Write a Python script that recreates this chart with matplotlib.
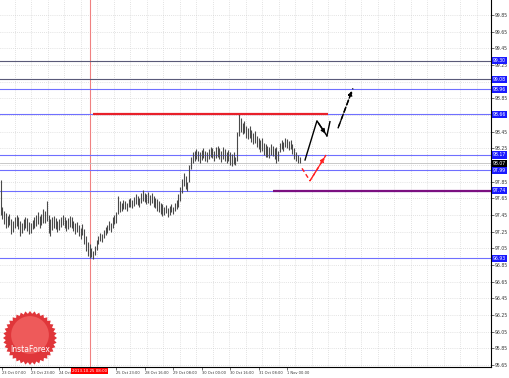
import numpy as np
import matplotlib
matplotlib.use("Agg")
import matplotlib.pyplot as plt
import matplotlib.transforms as mtransforms
from matplotlib.patches import Polygon, Circle

# hourly bars, quotes
bar_highs = [
    97.87, 97.55, 97.50, 97.47, 97.44, 97.46, 97.40, 97.38, 97.42, 97.45,
    97.42, 97.38, 97.36, 97.40, 97.43, 97.41, 97.37, 97.35, 97.39, 97.42,
    97.45, 97.48, 97.44, 97.46, 97.52, 97.50, 97.62, 97.45, 97.40, 97.43,
    97.44, 97.41, 97.38, 97.40, 97.43, 97.45, 97.42, 97.39, 97.41, 97.44,
    97.42, 97.38, 97.35, 97.37, 97.33, 97.30, 97.34, 97.28, 97.20, 97.12,
    97.10, 97.05, 97.02, 97.08, 97.15, 97.20, 97.24, 97.22, 97.27, 97.31,
    97.33, 97.38, 97.36, 97.42, 97.45, 97.48, 97.68, 97.62, 97.60, 97.63,
    97.62, 97.60, 97.64, 97.66, 97.63, 97.67, 97.70, 97.68, 97.66, 97.72,
    97.75, 97.72, 97.70, 97.73, 97.69, 97.71, 97.68, 97.66, 97.64, 97.62,
    97.60, 97.58, 97.55, 97.57, 97.53, 97.56, 97.58, 97.55, 97.60, 97.63,
    97.70, 97.78, 97.88, 97.96, 97.92, 97.85, 98.05, 98.15, 98.20, 98.22,
    98.24, 98.22, 98.20, 98.23, 98.25, 98.22, 98.20, 98.24, 98.27, 98.25,
    98.22, 98.26, 98.28, 98.25, 98.22, 98.26, 98.24, 98.21, 98.23, 98.20,
    98.18, 98.20, 98.15, 98.45, 98.66, 98.62, 98.55, 98.58, 98.52, 98.50,
    98.52, 98.47, 98.44, 98.46, 98.40, 98.38, 98.35, 98.37, 98.32, 98.30,
    98.28, 98.26, 98.30, 98.28, 98.25, 98.27, 98.22, 98.32, 98.35, 98.33,
    98.37, 98.36, 98.34, 98.35, 98.30, 98.25, 98.20, 98.17, 98.15,
]
bar_lows = [
    97.45, 97.40, 97.34, 97.30, 97.31, 97.33, 97.22, 97.25, 97.30, 97.32,
    97.28, 97.20, 97.24, 97.27, 97.30, 97.26, 97.22, 97.24, 97.28, 97.30,
    97.32, 97.34, 97.30, 97.33, 97.36, 97.36, 97.38, 97.24, 97.20, 97.27,
    97.30, 97.28, 97.25, 97.27, 97.31, 97.33, 97.29, 97.26, 97.28, 97.31,
    97.29, 97.26, 97.22, 97.25, 97.20, 97.16, 97.21, 97.10, 97.02, 96.96,
    96.93, 96.95, 96.92, 96.97, 97.03, 97.10, 97.14, 97.12, 97.17, 97.21,
    97.24, 97.27, 97.25, 97.30, 97.34, 97.36, 97.46, 97.48, 97.50, 97.52,
    97.52, 97.50, 97.54, 97.55, 97.53, 97.56, 97.58, 97.57, 97.55, 97.60,
    97.62, 97.61, 97.58, 97.60, 97.57, 97.59, 97.55, 97.53, 97.50, 97.48,
    97.46, 97.44, 97.45, 97.47, 97.43, 97.45, 97.48, 97.46, 97.50, 97.52,
    97.55, 97.62, 97.72, 97.80, 97.76, 97.74, 97.84, 98.00, 98.08, 98.10,
    98.12, 98.10, 98.08, 98.11, 98.13, 98.10, 98.09, 98.12, 98.15, 98.13,
    98.10, 98.13, 98.15, 98.12, 98.09, 98.12, 98.10, 98.07, 98.10, 98.05,
    98.04, 98.06, 98.05, 98.10, 98.40, 98.45, 98.42, 98.44, 98.38, 98.36,
    98.38, 98.33, 98.30, 98.32, 98.26, 98.24, 98.20, 98.22, 98.17, 98.15,
    98.15, 98.13, 98.17, 98.16, 98.12, 98.08, 98.10, 98.20, 98.24, 98.22,
    98.26, 98.25, 98.23, 98.24, 98.18, 98.12, 98.10, 98.08, 98.07,
]

# time axis labels (bar index, text)
time_tick_idx = [1, 17, 33, 65, 81, 97, 113, 129, 145, 161]
time_tick_labels = ["23 Oct 07:00", "23 Oct 23:00", "24 Oct 15:00", "25 Oct 23:00",
                    "28 Oct 16:00", "29 Oct 08:00", "30 Oct 00:00", "30 Oct 16:00",
                    "31 Oct 08:00", "1 Nov 00:00"]
vline_idx = 50
vline_label = "2013.10.25 08:00"

price_ticks = [95.65, 95.85, 96.05, 96.25, 96.45, 96.65, 96.85, 97.05, 97.25, 97.45,
               97.65, 97.85, 98.05, 98.25, 98.45, 98.65, 98.85, 99.05, 99.25, 99.45,
               99.65, 99.85]

# horizontal levels
levels = [99.30, 99.08, 98.96, 98.66, 98.17, 97.99, 97.74, 96.93]
level_colors = ["#5a5a78", "#5a5a78", "#6f6fff", "#6f6fff", "#6f6fff", "#6f6fff", "#6f6fff", "#6f6fff"]
last_price = 98.07

resistance = 98.66
resistance_span = (52, 184)
support = 97.74
support_span = (153, 276)

# forecast paths (bar index, price)
path_main_x = [171.1, 177.8, 183.4]
path_main_y = [98.11, 98.58, 98.40]
path_tail_x = [183.4, 185.1]
path_tail_y = [98.40, 98.57]
path_up_x = [189.6, 198.0]
path_up_y = [98.49, 98.97]
path_alt_x = [169.4, 173.9, 182.9]
path_alt_y = [98.01, 97.86, 98.17]

fig = plt.figure(figsize=(5.1, 3.78), dpi=100)
ax = fig.add_axes([0, 11 / 378, 491 / 510, 367 / 378])
ax.set_xlim(-0.3, 275.6)
ax.set_ylim(95.626, 100.03)

# grid
for gx in np.arange(8, 276, 9.27):
    ax.axvline(gx, color="#c8c8c8", lw=0.5, ls=(0, (1, 2)), zorder=0)
for gy in price_ticks:
    ax.axhline(gy, color="#c8c8c8", lw=0.5, ls=(0, (1, 2)), zorder=0)

ax.axvline(vline_idx, color="#f08080", lw=0.8, zorder=1)

for lvl, col in zip(levels, level_colors):
    ax.axhline(lvl, color=col, lw=0.8, zorder=1)
ax.axhline(last_price, color="#c0c0c0", lw=0.6, zorder=1)

ax.hlines(resistance, *resistance_span, color="#e8202a", lw=1.6, zorder=3)
ax.hlines(support, *support_span, color="#7b1080", lw=1.6, zorder=3)

idx = np.arange(len(bar_highs))
ax.vlines(idx, bar_lows, bar_highs, color="#4a4a4a", lw=0.8, zorder=2)

arrow_kw = dict(arrowstyle="-|>", mutation_scale=6, lw=1.0)
ax.plot(path_main_x, path_main_y, color="black", lw=1.0, zorder=4)
ax.annotate("", xy=(path_main_x[-1], path_main_y[-1]), xytext=(path_main_x[-2], path_main_y[-2]),
            arrowprops=dict(color="black", **arrow_kw), zorder=4)
ax.plot(path_tail_x, path_tail_y, color="black", lw=1.0, zorder=4)
ax.plot(path_up_x, path_up_y, color="black", lw=1.0, ls=(0, (4, 2)), zorder=4)
ax.annotate("", xy=(path_up_x[-1], path_up_y[-1]), xytext=(path_up_x[0], path_up_y[0]),
            arrowprops=dict(color="black", linestyle="dashed", **arrow_kw), zorder=4)
ax.plot(path_alt_x, path_alt_y, color="#ff2020", lw=1.0, ls=(0, (3, 2)), zorder=4)
ax.annotate("", xy=(path_alt_x[-1], path_alt_y[-1]), xytext=(path_alt_x[-2], path_alt_y[-2]),
            arrowprops=dict(color="#ff2020", linestyle="dashed", **arrow_kw), zorder=4)

# axes styling
for s in ["left", "top"]:
    ax.spines[s].set_visible(False)
for s in ["right", "bottom"]:
    ax.spines[s].set_color("black")
    ax.spines[s].set_linewidth(0.8)

# price scale: the level boxes hide the plain labels they cover
marked = levels + [last_price]
ax.yaxis.tick_right()
ax.set_yticks(price_ticks)
ax.set_yticklabels(["" if min(abs(p - m) for m in marked) < 0.045 else f"{p:.2f}" for p in price_ticks])
ax.tick_params(axis="y", labelsize=3.3, length=2, width=0.5, pad=1, colors="#333333")
ax.set_xticks(time_tick_idx)
ax.set_xticklabels(time_tick_labels)
ax.tick_params(axis="x", labelsize=2.6, length=2, width=0.5, pad=1, colors="#333333")
for lab in ax.get_xticklabels():
    lab.set_horizontalalignment("left")

ytrans = mtransforms.blended_transform_factory(ax.transAxes, ax.transData)
for lvl in levels:
    ax.text(1.004, lvl, f"{lvl:.2f}", transform=ytrans, fontsize=3.3, color="white", va="center", ha="left",
            bbox=dict(boxstyle="square,pad=0.25", fc="#1a1aff", ec="none"), clip_on=False, zorder=6)
ax.text(1.004, last_price, f"{last_price:.2f}", transform=ytrans, fontsize=3.3, color="white", va="center",
        ha="left", bbox=dict(boxstyle="square,pad=0.25", fc="black", ec="none"), clip_on=False, zorder=6)

xtrans = mtransforms.blended_transform_factory(ax.transData, ax.transAxes)
ax.text(vline_idx, -0.006, vline_label, transform=xtrans, fontsize=2.9, color="white", va="top", ha="center",
        bbox=dict(boxstyle="square,pad=0.3", fc="#ff0000", ec="none"), clip_on=False, zorder=6)

# InstaForex badge
cx, cy, r = 0.30, 0.40, 0.27
ang = np.linspace(0, 2 * np.pi, 72, endpoint=False)
rad = np.where(np.arange(72) % 2 == 0, r, r * 0.9)
star = Polygon(np.c_[cx + rad * np.cos(ang), cy + rad * np.sin(ang)], closed=True,
               transform=fig.dpi_scale_trans, fc="#e0363a", ec="none", zorder=5)
ax.add_patch(star)
inner = Circle((cx, cy + 0.03), r * 0.7, transform=fig.dpi_scale_trans, fc="#ee5a5a", ec="none", zorder=5)
ax.add_patch(inner)
fig.text(cx / 5.1, (cy - 0.12) / 3.78, "InstaForex", fontsize=5.5, color="white", ha="center", va="center",
         zorder=7)

fig.savefig("out.png", dpi=100)
